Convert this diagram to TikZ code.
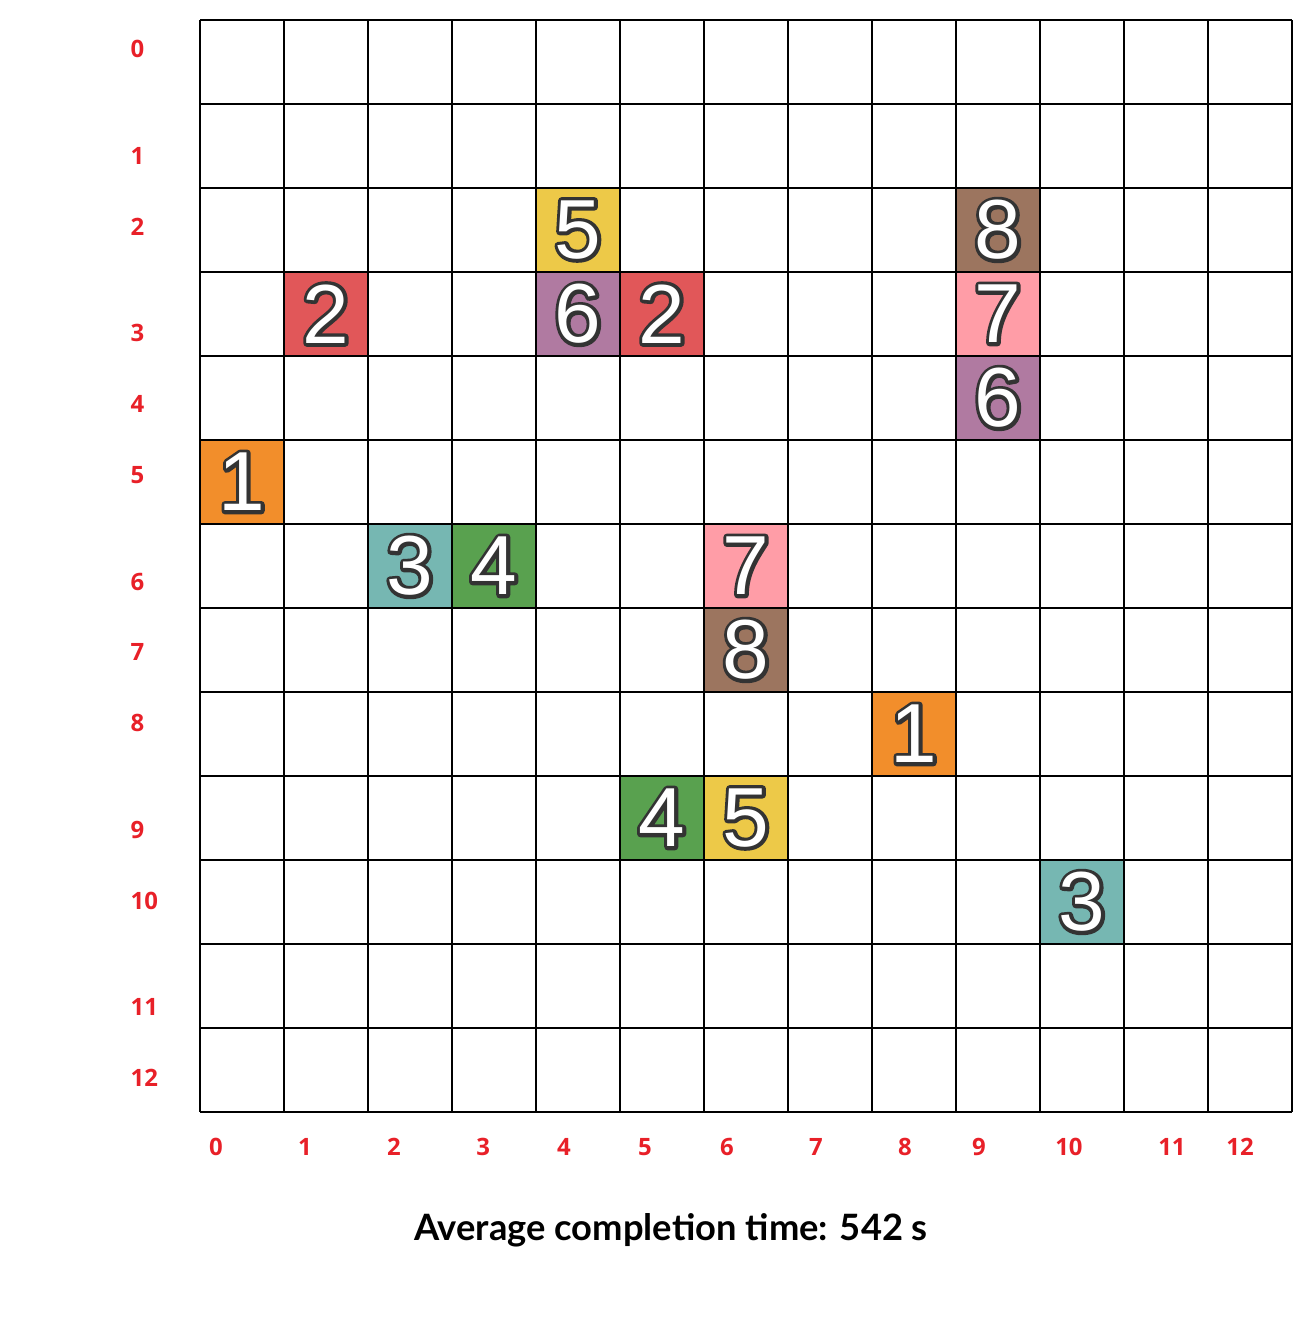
\documentclass[tikz,border=0pt]{standalone}
\usepackage{fontspec}
\setmainfont{Open Sans}
\newfontfamily\digitfont{Liberation Sans}
\newfontfamily\captionfont{Lato}
\definecolor{tyellow}{HTML}{EDC948}
\definecolor{tbrown}{HTML}{9C755F}
\definecolor{tred}{HTML}{E15759}
\definecolor{tpurple}{HTML}{B07AA1}
\definecolor{tpink}{HTML}{FF9DA7}
\definecolor{torange}{HTML}{F28E2B}
\definecolor{tteal}{HTML}{76B7B2}
\definecolor{tgreen}{HTML}{59A14F}
\definecolor{outl}{HTML}{333333}
\definecolor{axisred}{RGB}{232,32,40}
% white digit with a dark stroke round it
\newcommand{\outlined}[1]{%
  \rlap{\textcolor{outl}{\special{pdf:literal direct 1 Tr 2.4 w 1 J 1 j}#1\special{pdf:literal direct 0 Tr}}}%
  \textcolor{white}{#1}}
\tikzset{
  gridline/.style={line width=.7pt},
  cellnum/.style={inner sep=0pt,font=\digitfont\fontsize{28.4}{30}\selectfont},
  axislabel/.style={inner sep=0pt,text=axisred,font=\fontsize{8.1}{10}\selectfont\bfseries},
  caption/.style={inner sep=0pt,font=\captionfont\fontsize{12.3}{15}\selectfont\bfseries}
}
\begin{document}
\begin{tikzpicture}[x=1cm,y=-1cm]
\useasboundingbox (-2.381,-0.238) rectangle (13.179,15.536);
% occupied cells
\foreach \r/\c/\n/\col in {2/4/5/tyellow,2/9/8/tbrown,3/1/2/tred,3/4/6/tpurple,3/5/2/tred,
  3/9/7/tpink,4/9/6/tpurple,5/0/1/torange,6/2/3/tteal,6/3/4/tgreen,6/6/7/tpink,
  7/6/8/tbrown,8/8/1/torange,9/5/4/tgreen,9/6/5/tyellow,10/10/3/tteal}{
  \fill[\col] (\c,\r) rectangle ++(1,1);
  \node[cellnum] (cell\r-\c) at (\c+0.5,\r+0.5) {\outlined{\n}};
}
% grid
\foreach \i in {0,...,13}{
  \draw[gridline] (\i,0) -- (\i,13);
  \draw[gridline] (0,\i) -- (13,\i);
}
% row labels
\foreach \r/\y in {0/0.345,1/1.619,2/2.464,3/3.726,4/4.572,5/5.417,6/6.691,
  7/7.524,8/8.369,9/9.643,10/10.488,11/11.750,12/12.595}{
  \node[axislabel,anchor=west] (row\r) at (-0.833,\y) {\r};
}
% column labels
\foreach \c/\x in {0/0.190,1/1.250,2/2.310,3/3.370,4/4.333,5/5.298,6/6.274,
  7/7.333,8/8.393,9/9.274,10/10.345,11/11.571,12/12.381}{
  \node[axislabel] (col\c) at (\x,13.417) {\c};
}
\node[caption] (avgtime) at (5.607,14.41) {Average completion time: 542 s};
\end{tikzpicture}
\end{document}
